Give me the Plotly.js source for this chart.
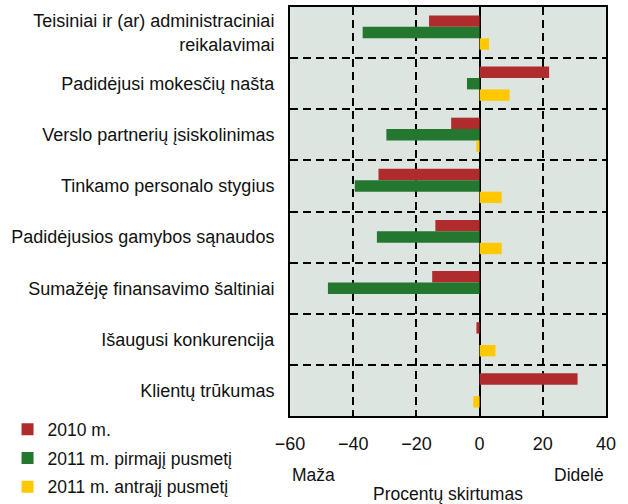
<!DOCTYPE html>
<html>
<head>
<meta charset="utf-8">
<script src="https://cdn.plot.ly/plotly-3.0.1.min.js"></script>
<style>
  body { margin: 0; background: #fff; }
  #chart { width: 628px; height: 504px; }
</style>
</head>
<body>
<div id="chart"></div>
<script>
var categories = [
    'Teisiniai ir (ar) administraciniai<br>reikalavimai',
    'Padidėjusi mokesčių našta',
    'Verslo partnerių įsiskolinimas',
    'Tinkamo personalo stygius',
    'Padidėjusios gamybos sąnaudos',
    'Sumažėję finansavimo šaltiniai',
    'Išaugusi konkurencija',
    'Klientų trūkumas'
];
var seriesNames = ['2010 m.', '2011 m. pirmajį pusmetį', '2011 m. antrajį pusmetį'];
var values2010 = [-16, 22, -9, -32, -14, -15, -1, 31];
var values2011a = [-37, -4, -29.5, -39.5, -32.5, -48, 0, 0];
var values2011b = [3, 9.5, -1, 7, 7, 0, 5, -2];
var seriesColors = ['#b02c2c', '#23772f', '#ffc800'];
var xTicks = [-60, -40, -20, 0, 20, 40];

var font = 'Liberation Sans, Arial, sans-serif';
var allValues = [values2010, values2011a, values2011b];

var data = [];
for (var i = 0; i < seriesNames.length; i++) {
    data.push({
        type: 'bar',
        orientation: 'h',
        name: seriesNames[i],
        legendgroup: 'g' + i,
        y: categories,
        x: allValues[i],
        marker: { color: seriesColors[i], line: { width: 0 } },
        hoverinfo: 'x+name'
    });
}

var layout = {
    width: 628,
    height: 504,
    margin: { l: 290, r: 22, t: 7, b: 88 },
    paper_bgcolor: '#ffffff',
    plot_bgcolor: '#dde5e0',
    font: { family: font, size: 17.5, color: '#111' },
    barmode: 'group',
    bargap: 0.33,
    bargroupgap: 0,
    xaxis: {
        range: [-60, 40],
        tickvals: xTicks,
        showgrid: true,
        gridcolor: '#000',
        griddash: '8px,5px',
        gridwidth: 2,
        zeroline: true,
        zerolinecolor: '#000',
        zerolinewidth: 2,
        showline: true,
        linecolor: '#000',
        linewidth: 2,
        mirror: true,
        ticks: '',
        ticklabelstandoff: 10,
        tickfont: { size: 18 },
        title: { text: 'Procentų skirtumas', font: { size: 17.5 }, standoff: 36 }
    },
    yaxis: {
        autorange: 'reversed',
        type: 'category',
        tickson: 'boundaries',
        showgrid: true,
        gridcolor: '#000',
        griddash: '8px,5px',
        gridwidth: 2,
        showline: true,
        linecolor: '#000',
        linewidth: 2,
        mirror: true,
        ticks: '',
        ticklabelstandoff: 10,
        tickfont: { size: 18 }
    },
    showlegend: true,
    legend: {
        xref: 'container',
        yref: 'container',
        x: 0.012,
        y: 0.184,
        xanchor: 'left',
        yanchor: 'top',
        bgcolor: 'rgba(0,0,0,0)',
        tracegroupgap: 3,
        itemwidth: 30,
        font: { size: 17.5, family: font }
    },
    annotations: [
        { xref: 'paper', yref: 'paper', x: 0, y: 0, yshift: -59, xanchor: 'left', yanchor: 'middle',
          text: 'Maža', showarrow: false, font: { size: 17.5 } },
        { xref: 'paper', yref: 'paper', x: 1, y: 0, yshift: -59, xanchor: 'right', yanchor: 'middle',
          text: 'Didelė', showarrow: false, font: { size: 17.5 } }
    ]
};

Plotly.newPlot('chart', data, layout, { displayModeBar: false, displaylogo: false });
</script>
</body>
</html>
